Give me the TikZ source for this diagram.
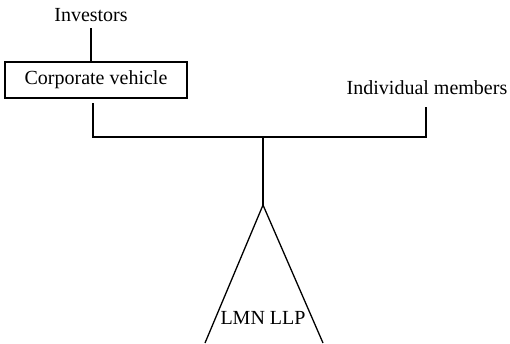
\documentclass[tikz,border=0pt]{standalone}
\usepackage{fontspec}
\setmainfont{Liberation Serif}
\usetikzlibrary{positioning}

\begin{document}
\begin{tikzpicture}[
    x=1pt, y=-1pt,
    line width=1.3pt,
    every node/.style={font=\fontsize{20}{24}\selectfont, inner sep=2pt},
    entity/.style={
        draw,
        line width=1.2pt,
        minimum width=182pt,
        minimum height=36pt
    }
]
\useasboundingbox (0,0) rectangle (510,343);

\node (inv) at (91,15) {Investors};
\node[entity] (cv) at (96,80) {Corporate vehicle};
\node (ind) at (427,88) {Individual members};
\node (llp) at (263,318) {LMN LLP};

\coordinate (cvb) at (93,103);
\coordinate (jl) at (93,137);
\coordinate (jc) at (263,137);
\coordinate (jr) at (426,137);
\coordinate (indb) at (426,107);
\coordinate (apex) at (263,205);
\coordinate (bl) at (205,343);
\coordinate (br) at (323,343);

\draw ([yshift=-4pt]inv.south) -- (cv.north -| inv.south);
\draw (cvb) -- (jl) -- (jr) -- (indb);
\draw (jc) -- (apex);
\draw (bl) -- (apex) -- (br);

\end{tikzpicture}
\end{document}
